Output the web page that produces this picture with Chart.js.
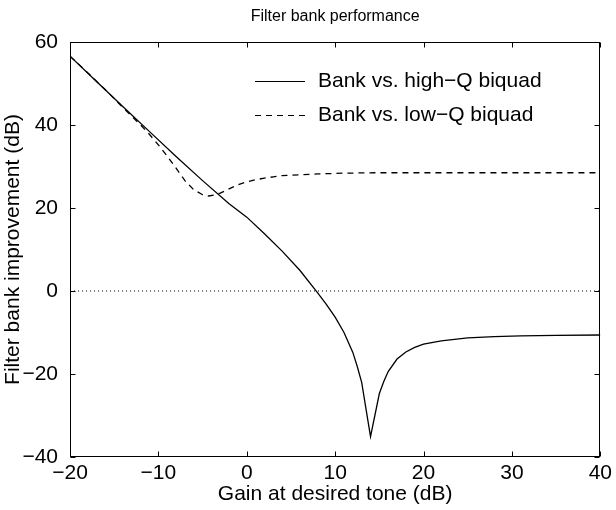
<!DOCTYPE html>
<html>
<head>
<meta charset="utf-8">
<script src="https://cdn.jsdelivr.net/npm/chart.js@4.4.1/dist/chart.umd.min.js"></script>
<style>
  html, body { margin: 0; padding: 0; background: #fff; }
  #wrap { width: 616px; height: 510px; }
</style>
</head>
<body>
<div id="wrap"><canvas id="c" width="616" height="510"></canvas></div>
<script>
// Filter bank improvement versus gain at the desired tone
const gainHighQ = [-20, -17, -14, -11, -8, -5, -2, 0, 2, 4, 6, 8, 9, 10, 11, 12, 12.5, 13, 14, 15, 15.5, 16, 17, 18, 19, 20, 22, 25, 28, 31, 35, 40];
const improvementHighQ = [56.6, 50.5, 44.4, 38.4, 32.4, 26.6, 21.0, 17.8, 13.8, 9.6, 5.0, -0.4, -3.2, -6.3, -10.0, -14.8, -18.2, -22.0, -35.1, -24.7, -21.8, -19.4, -16.4, -14.7, -13.6, -12.8, -12.0, -11.3, -11.0, -10.8, -10.7, -10.6];

const gainLowQ = [-20, -18, -16, -14, -12, -11, -10, -9, -8, -7, -6, -5, -4.3, -3.5, -3, -2, -1, 0, 1, 2, 3, 4, 6, 8, 11, 15, 20, 25, 30, 35, 40];
const improvementLowQ = [56.6, 52.6, 48.5, 44.2, 40.0, 37.7, 35.2, 32.5, 29.6, 26.6, 24.4, 23.2, 22.9, 23.2, 23.6, 24.6, 25.6, 26.3, 26.8, 27.2, 27.5, 27.8, 28.0, 28.2, 28.4, 28.5, 28.5, 28.5, 28.5, 28.5, 28.5];

const referenceGain = [-20, 40];
const referenceLevel = [0, 0];

const xTicks = [-20, -10, 0, 10, 20, 30, 40];
const yTicks = [-40, -20, 0, 20, 40, 60];

const seriesLabels = ['Bank vs. high\u2212Q biquad', 'Bank vs. low\u2212Q biquad'];
const chartTitle = 'Filter bank performance';
const xTitle = 'Gain at desired tone (dB)';
const yTitle = 'Filter bank improvement (dB)';

const FONT = '"Liberation Sans", Arial, Helvetica, sans-serif';
const LABEL_SIZE = 21;

const toPoints = (xs, ys) => xs.map((x, i) => ({ x, y: ys[i] }));
const fmt = v => String(v).replace('-', '\u2212');

// Box with inward ticks on all four sides, plus title and legend
const framePlugin = {
  id: 'frame',
  afterDraw(chart) {
    const { ctx, chartArea: a, scales: { x, y } } = chart;
    const L = Math.round(a.left) + 0.5, R = Math.round(a.right) - 0.5;
    const T = Math.round(a.top) + 0.5, B = Math.round(a.bottom) - 0.5;
    const len = 5;
    ctx.save();
    ctx.strokeStyle = '#000';
    ctx.lineWidth = 1;
    ctx.strokeRect(L, T, R - L, B - T);
    ctx.beginPath();
    xTicks.forEach(v => {
      const px = Math.round(x.getPixelForValue(v)) + 0.5;
      ctx.moveTo(px, B); ctx.lineTo(px, B - len);
      ctx.moveTo(px, T); ctx.lineTo(px, T + len);
    });
    yTicks.forEach(v => {
      const py = Math.round(y.getPixelForValue(v)) + 0.5;
      ctx.moveTo(L, py); ctx.lineTo(L + len, py);
      ctx.moveTo(R, py); ctx.lineTo(R - len, py);
    });
    ctx.stroke();

    // title
    ctx.fillStyle = '#000';
    ctx.font = '16px ' + FONT;
    ctx.textAlign = 'center';
    ctx.textBaseline = 'middle';
    ctx.fillText(chartTitle, (a.left + a.right) / 2, 17);

    // legend
    const styles = [[], [6, 5]];
    ctx.font = LABEL_SIZE + 'px ' + FONT;
    ctx.textAlign = 'left';
    [81, 115].forEach((ly, i) => {
      ctx.beginPath();
      ctx.setLineDash(styles[i]);
      ctx.lineWidth = 1.2;
      ctx.moveTo(255, ly + 0.5);
      ctx.lineTo(305, ly + 0.5);
      ctx.stroke();
      ctx.setLineDash([]);
      ctx.fillText(chart.data.datasets[i].label, 318, ly);
    });
    ctx.restore();
  }
};

new Chart(document.getElementById('c'), {
  type: 'line',
  data: {
    datasets: [
      {
        label: seriesLabels[0],
        data: toPoints(gainHighQ, improvementHighQ),
        borderColor: '#000', borderWidth: 1.3, pointRadius: 0, tension: 0, fill: false
      },
      {
        label: seriesLabels[1],
        data: toPoints(gainLowQ, improvementLowQ),
        borderColor: '#000', borderWidth: 1.3, borderDash: [6, 5], pointRadius: 0, tension: 0, fill: false
      },
      {
        label: 'zero',
        data: toPoints(referenceGain, referenceLevel),
        borderColor: '#000', borderWidth: 1, borderDash: [1, 3], pointRadius: 0, fill: false
      }
    ]
  },
  options: {
    responsive: false,
    animation: false,
    devicePixelRatio: 1,
    layout: { padding: { top: 42, right: 14, left: 0, bottom: 0 } },
    plugins: { legend: { display: false }, title: { display: false }, tooltip: { enabled: false } },
    scales: {
      x: {
        type: 'linear', min: -20, max: 40,
        afterBuildTicks: s => { s.ticks = xTicks.map(v => ({ value: v })); },
        afterFit: s => { s.height = 53; },
        grid: { display: false, drawTicks: false },
        border: { display: false },
        ticks: { color: '#000', font: { family: FONT, size: LABEL_SIZE }, padding: 4, maxRotation: 0, callback: v => fmt(v) },
        title: { display: true, text: xTitle, color: '#000', font: { family: FONT, size: LABEL_SIZE }, padding: { top: 0, bottom: 3 } }
      },
      y: {
        type: 'linear', min: -40, max: 60,
        afterBuildTicks: s => { s.ticks = yTicks.map(v => ({ value: v })); },
        afterFit: s => { s.width = 70; },
        grid: { display: false, drawTicks: false },
        border: { display: false },
        ticks: { color: '#000', font: { family: FONT, size: LABEL_SIZE }, padding: 12, callback: v => fmt(v) },
        title: { display: true, text: yTitle, color: '#000', font: { family: FONT, size: LABEL_SIZE }, padding: { top: 1, bottom: 0 } }
      }
    }
  },
  plugins: [framePlugin]
});
</script>
</body>
</html>
